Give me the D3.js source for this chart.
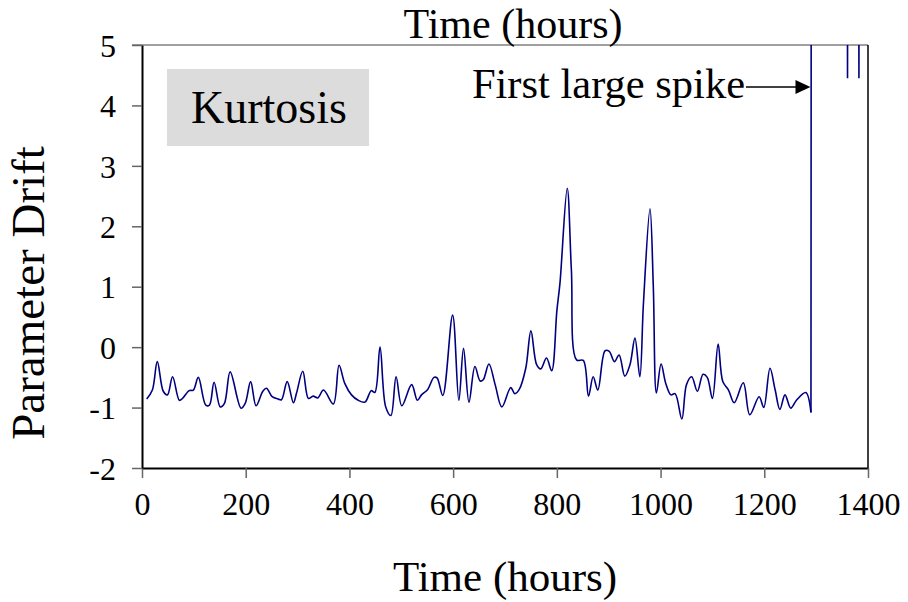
<!DOCTYPE html>
<html>
<head>
<meta charset="utf-8">
<script src="https://cdn.jsdelivr.net/npm/d3@7"></script>
<style>
  html, body { margin: 0; padding: 0; background: #fff; }
  svg { display: block; }
  text { font-family: "Liberation Serif", "Times New Roman", serif; fill: #000; }
</style>
</head>
<body>
<svg id="chart" width="908" height="602"></svg>
<script>
// ---- data ----
const hours = [9,20,29.5,41,49,59,72,78,91,99,108.6,123,130,139,151,159,170,191,199,209.5,220,233,240,251,263,269,280,292,298,310,321,330,339,350,369,380,391,404,417,430,442,449,459,470,480,490,501,520,531,539,551,563,569,580,599,611,620,630.5,642,652,658,669,681,694,711,719,727.5,740,750,761,769,780,790,800,806,820,828,838,851,861,870,879,893,901,911,920,931,941,950.6,960,967,979.6,986,992,1001,1010,1020,1028,1041,1050,1060,1071,1082,1090,1100,1111,1120,1131,1142,1159.5,1172,1190,1199,1211,1221,1230,1240,1251,1262,1280,1290,1291,1359,1360.5,1362,1381,1382.5,1384,1400];
const drift = [-0.86,-0.71,-0.24,-0.73,-0.79,-0.49,-0.88,-0.85,-0.72,-0.71,-0.50,-0.96,-0.96,-0.58,-0.99,-0.93,-0.41,-1.01,-0.93,-0.57,-0.97,-0.73,-0.68,-0.82,-0.86,-0.87,-0.57,-0.92,-0.76,-0.40,-0.85,-0.81,-0.84,-0.71,-0.94,-0.30,-0.60,-0.79,-0.88,-0.91,-0.72,-0.75,0.00,-0.99,-1.13,-0.49,-0.97,-0.62,-0.88,-0.79,-0.70,-0.50,-0.51,-0.80,0.53,-0.88,-0.02,-0.91,-0.32,-0.56,-0.54,-0.28,-0.62,-0.99,-0.67,-0.77,-0.70,-0.35,0.27,-0.29,-0.36,-0.18,-0.39,0.60,1.06,2.63,1.28,-0.21,-0.22,-0.81,-0.49,-0.71,-0.06,-0.07,-0.24,-0.13,-0.48,-0.29,0.15,-0.49,0.73,2.29,1.00,-0.76,-0.28,-0.60,-0.79,-0.77,-1.19,-0.62,-0.49,-0.73,-0.45,-0.50,-0.85,0.05,-0.57,-0.71,-0.92,-0.59,-1.12,-0.82,-1.00,-0.35,-0.71,-1.03,-0.79,-1.01,-0.88,-0.75,-1.08,14,14,4.45,14,14,4.45,14,14];
const xTicks = [0,200,400,600,800,1000,1200,1400];
const yTicks = [-2,-1,0,1,2,3,4,5];
const xTitle = "Time (hours)";
const yTitle = "Parameter Drift";
const boxLabel = "Kurtosis";
const annotation = "First large spike";
const spikeHour = 1291;

// ---- layout ----
const svg = d3.select("#chart");
const L = 142, R = 868, T = 45, B = 468;
const x = d3.scaleLinear().domain([0, 1400]).range([L, R]);
const y = d3.scaleLinear().domain([-2, 5]).range([B, T]);

svg.append("defs").append("clipPath").attr("id", "clip")
  .append("rect").attr("x", L).attr("y", T).attr("width", R - L).attr("height", B - T);

// Kurtosis box
svg.append("rect").attr("x", 167).attr("y", 69).attr("width", 202).attr("height", 77).attr("fill", "#dcdcdc");
svg.append("text").attr("x", 269).attr("y", 123).attr("text-anchor", "middle")
  .style("font-size", "46px").text(boxLabel);

// borders
svg.append("line").attr("x1", L - 10).attr("x2", R).attr("y1", T).attr("y2", T)
  .attr("stroke", "#808080").attr("stroke-width", 1.5);
svg.append("line").attr("x1", R).attr("x2", R).attr("y1", T).attr("y2", B)
  .attr("stroke", "#000").attr("stroke-width", 1.5);

// line: smoothed part up to the spike, straight segments from the spike on
const pts = hours.map((h, i) => [h, drift[i]]);
const spikeIdx = hours.indexOf(1290);
const smooth = d3.line().x(d => x(d[0])).y(d => y(d[1])).curve(d3.curveCatmullRom.alpha(0.5));
const straight = d3.line().x(d => x(d[0])).y(d => y(d[1]));
const g = svg.append("g").attr("clip-path", "url(#clip)");
g.append("path").attr("d", smooth(pts.slice(0, spikeIdx + 1)))
  .attr("fill", "none").attr("stroke", "#000080").attr("stroke-width", 1.6);
g.append("path").attr("d", straight(pts.slice(spikeIdx)))
  .attr("fill", "none").attr("stroke", "#000080").attr("stroke-width", 1.6);

// axes
const fmt = d => String(d);
const xAxis = svg.append("g").attr("transform", `translate(0,${B})`)
  .call(d3.axisBottom(x).tickValues(xTicks).tickSize(10).tickSizeOuter(0).tickPadding(14).tickFormat(fmt));
const yAxis = svg.append("g").attr("transform", `translate(${L},0)`)
  .call(d3.axisLeft(y).tickValues(yTicks).tickSize(10).tickSizeOuter(0).tickPadding(16).tickFormat(fmt));
[xAxis, yAxis].forEach(a => {
  a.select(".domain").attr("stroke", "#000").attr("stroke-width", 2);
  a.selectAll(".tick line").attr("stroke", "#666").attr("stroke-width", 1.5);
  a.selectAll(".tick text").style("font-family", "'Liberation Serif', serif").style("font-size", "32px").attr("fill", "#000");
});
yAxis.selectAll(".tick text").attr("dy", "0.35em");

// titles
svg.append("text").attr("x", 505).attr("y", 591).attr("text-anchor", "middle").style("font-size", "43px").text(xTitle);
svg.append("text").attr("x", 513).attr("y", 38).attr("text-anchor", "middle").style("font-size", "42px").text(xTitle);
svg.append("text").attr("transform", "translate(44,293) rotate(-90)").attr("text-anchor", "middle")
  .style("font-size", "47px").text(yTitle);

// annotation
const ay = 87;
const tipX = x(spikeHour) - 1;
svg.append("text").attr("x", 745).attr("y", 98).attr("text-anchor", "end").style("font-size", "42.5px").text(annotation);
svg.append("line").attr("x1", 746).attr("x2", tipX - 12).attr("y1", ay).attr("y2", ay)
  .attr("stroke", "#000").attr("stroke-width", 1.5);
svg.append("path").attr("d", `M${tipX},${ay} L${tipX - 15},${ay - 7} L${tipX - 15},${ay + 7} Z`).attr("fill", "#000");
</script>
</body>
</html>
